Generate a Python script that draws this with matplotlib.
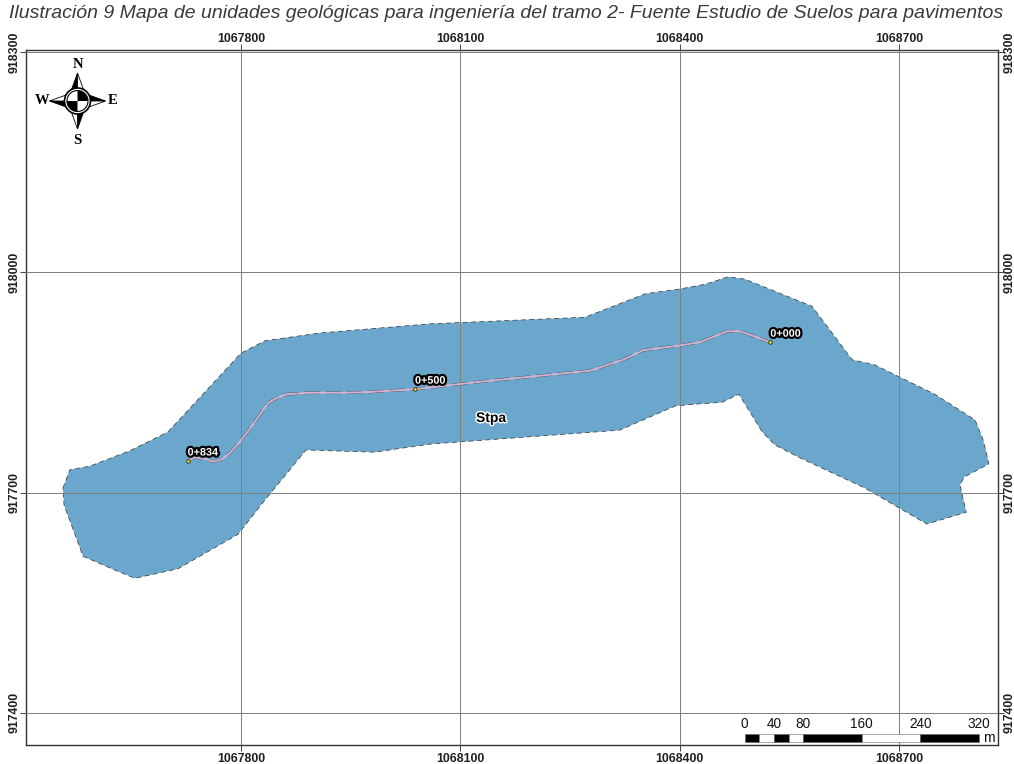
import matplotlib
matplotlib.use("Agg")
import matplotlib.pyplot as plt
import matplotlib.patheffects as pe
from matplotlib.patches import Polygon, Rectangle, Circle, Wedge

plt.rcParams['font.family'] = ['Liberation Sans', 'DejaVu Sans']

# Geological unit outline (map coordinates, m)
unit_x = [1067556.5, 1067566, 1067593.5, 1067648, 1067700, 1067800, 1067833, 1067908,
          1068058.5, 1068270.5, 1068353, 1068400, 1068435, 1068466, 1068489, 1068581,
          1068636, 1068667, 1068749, 1068804, 1068815, 1068823, 1068789, 1068783.5,
          1068792, 1068738, 1068653.5, 1068565, 1068530, 1068513, 1068481, 1068458,
          1068428, 1068394, 1068318, 1068058.5, 1067983, 1067889, 1067833, 1067796,
          1067714, 1067655, 1067628, 1067584, 1067558]
unit_y = [917706, 917731, 917736, 917757, 917782.5, 917890, 917907, 917917.5,
          917930, 917939, 917971, 917977.5, 917984, 917994, 917991, 917954,
          917881, 917874, 917834, 917799, 917772, 917739, 917721, 917710,
          917673, 917657, 917706, 917747, 917765, 917782.5, 917834, 917823,
          917821, 917818, 917785, 917766, 917755, 917758, 917690, 917643,
          917596, 917583, 917594, 917613, 917683]

# Road axis
road_x = [1067727, 1067737, 1067751, 1067762, 1067775, 1067785, 1067799, 1067816,
          1067837, 1067849, 1067863, 1067894, 1067940, 1067976, 1068038, 1068127,
          1068236, 1068277, 1068322.5, 1068350, 1068400, 1068428, 1068465, 1068482.5,
          1068524]
road_y = [917743, 917748, 917746, 917742, 917746, 917754, 917770, 917792,
          917822, 917829, 917834, 917836, 917836, 917837, 917841, 917851,
          917862, 917866, 917881, 917894, 917900.5, 917905, 917920, 917920,
          917905]

# Chainage markers
km_labels = ['0+834', '0+500', '0+000']
km_x = [1067727, 1068038, 1068524]
km_y = [917743, 917841, 917905]

x_ticks = [1067800, 1068100, 1068400, 1068700]
y_ticks = [917400, 917700, 918000, 918300]

# Scale bar
scale_edges = [0, 20, 40, 60, 80, 160, 240, 320]
scale_labels = [0, 40, 80, 160, 240, 320]

W, H = 1014, 764
fig = plt.figure(figsize=(W / 100, H / 100), dpi=100)
ax = fig.add_axes([26 / W, (H - 745) / H, 972 / W, 695 / H])
ax.set_xlim(1067506, 1068835.4)
ax.set_ylim(917355.7, 918303.4)

fig.text(506.5 / W, 1 - 14 / H,
         'Ilustración 9 Mapa de unidades geológicas para ingeniería del tramo 2- Fuente Estudio de Suelos para pavimentos',
         ha='center', va='center', style='italic', fontsize=14, color='#3a3a3a')

# Unit polygon
ax.add_patch(Polygon(list(zip(unit_x, unit_y)), closed=True, facecolor='#6ba7cc',
                     edgecolor='#333333', linewidth=0.5, linestyle=(0, (7, 5)), zorder=1))

# Grid
ax.set_xticks(x_ticks)
ax.set_yticks(y_ticks)
ax.set_xticklabels([str(v) for v in x_ticks])
ax.set_yticklabels([str(v) for v in y_ticks], rotation=90, va='center')
ax.grid(True, color='#808080', linewidth=0.72, zorder=2)
ax.set_axisbelow(False)
ax.tick_params(top=True, right=True, labeltop=True, labelright=True, length=4, width=0.7,
               color='#444444', labelsize=8.9)
ax.tick_params(axis='x', pad=2)
ax.tick_params(axis='y', pad=0)
for lab in ax.get_xticklabels() + ax.get_yticklabels():
    lab.set_fontweight('bold')
    lab.set_color('#222222')
for tick in ax.xaxis.get_major_ticks():
    tick.label2.set_va('baseline')
for s in ax.spines.values():
    s.set_linewidth(1.0)
    s.set_color('#333333')

# Road
ax.plot(road_x, road_y, color='#4a4a4a', linewidth=1.9, linestyle=(0, (6, 2)), zorder=3)
ax.plot(road_x, road_y, color='#d3b3d3', linewidth=1.4, zorder=4, solid_capstyle='round')

# Chainage labels
ax.scatter(km_x, km_y, s=6, color='#ffff00', edgecolor='black', linewidth=0.5, zorder=6)
for lab, x, y in zip(km_labels, km_x, km_y):
    ax.annotate(lab, (x, y), xytext=(0, 2.5), textcoords='offset points', ha='left', va='bottom',
                color='white', fontsize=7.8, fontweight='bold', zorder=7,
                path_effects=[pe.withStroke(linewidth=3.2, foreground='black')])

ax.text(1068142, 917801.6, 'Stpa', ha='center', va='center', color='black', fontsize=10,
        fontweight='bold', zorder=5, path_effects=[pe.withStroke(linewidth=2, foreground='#ffffff')])

# Scale bar, map units are metres
bar_x0 = 1068489
bar_y0 = 917360
bar_h = 10.5
for i in range(len(scale_edges) - 1):
    ax.add_patch(Rectangle((bar_x0 + scale_edges[i], bar_y0), scale_edges[i + 1] - scale_edges[i], bar_h,
                           facecolor='black' if i % 2 == 0 else 'white', edgecolor='#666666',
                           linewidth=0.4, zorder=5))
for v in scale_labels:
    ax.text(bar_x0 + v, bar_y0 + 25, str(v), ha='center', va='center', fontsize=9.8, color='#111111', zorder=5)
ax.text(bar_x0 + 326, bar_y0 + 5, 'm', ha='left', va='center', fontsize=10, color='#111111', zorder=5)

# North arrow, inset axes in pixels
size = 80
cx, cy = 77.5, 101
na = fig.add_axes([(cx - size / 2) / W, (H - cy - size / 2) / H, size / W, size / H])
na.set_xlim(-40, 40)
na.set_ylim(-40, 40)
na.axis('off')
tip = 28
base = 6.5
mid = 10
for dx, dy in [(0, 1), (1, 0), (0, -1), (-1, 0)]:
    px, py = -dy, dx
    t = (dx * tip, dy * tip)
    a = (dx * mid + px * base, dy * mid + py * base)
    b = (dx * mid - px * base, dy * mid - py * base)
    o = (0, 0)
    na.add_patch(Polygon([o, t, a], facecolor='black', edgecolor='black', linewidth=0.6))
    na.add_patch(Polygon([o, t, b], facecolor='white', edgecolor='black', linewidth=0.6))
na.add_patch(Circle((0, 0), 13, facecolor='white', edgecolor='black', linewidth=1.2, zorder=3))
na.add_patch(Circle((0, 0), 10.5, facecolor='white', edgecolor='black', linewidth=0.8, zorder=3))
for start in (0, 180):
    na.add_patch(Wedge((0, 0), 10.5, start, start + 90, facecolor='black', edgecolor='none', zorder=4))
for lab, x, y in [('N', 0, 36), ('S', 0, -39), ('W', -35.5, 0), ('E', 35.5, 0)]:
    na.text(x, y, lab, ha='center', va='center', family='Liberation Serif', fontsize=10.5,
            fontweight='bold', color='black', clip_on=False)

fig.savefig('out.png', dpi=100)
